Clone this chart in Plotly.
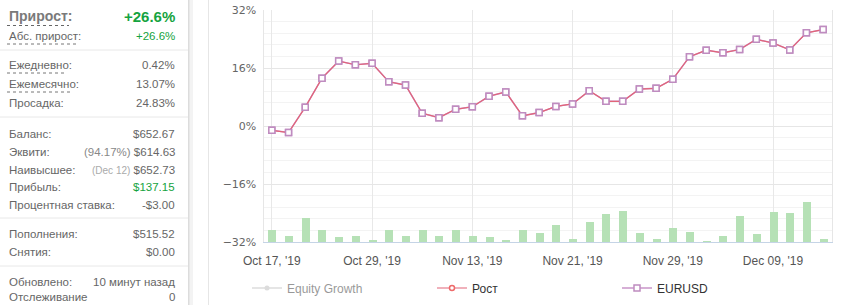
import plotly.graph_objects as go

W, H = 844, 305

# ---- data ----
growth = [-1.2, -1.8, 5.2, 13.2, 17.9, 16.9, 17.3, 12.2, 11.3, 3.5, 2.3, 4.6, 5.3, 8.2, 9.4,
          2.8, 3.7, 5.4, 6.1, 9.7, 6.8, 6.8, 10.2, 10.4, 12.9, 19.1, 20.9, 20.2, 21.1, 23.9,
          22.9, 21.0, 25.7, 26.6]
eurusd = [-1.2, -1.8, 5.2, 13.2, 17.9, 16.9, 17.3, 12.2, 11.3, 3.5, 2.3, 4.6, 5.3, 8.2, 9.4,
          2.8, 3.7, 5.4, 6.1, 9.7, 6.8, 6.8, 10.2, 10.4, 12.9, 19.1, 20.9, 20.2, 21.1, 23.9,
          22.9, 21.0, 25.7, 26.6]
volume = [4, 2, 8, 4, 1.6, 2, 0.4, 4, 2, 4, 2, 4, 2, 1.6, 0.4, 4, 3, 5.6, 0.9, 6.7, 9.3,
          10.3, 3, 1, 4.7, 3.3, 0.3, 2, 8.7, 2.6, 10, 9.7, 13.3, 1]
day_index = list(range(len(growth)))
tick_index = [0, 6, 12, 18, 24, 30]
tick_labels = ["Oct 17, '19", "Oct 29, '19", "Nov 13, '19", "Nov 21, '19", "Nov 29, '19", "Dec 09, '19"]
y_ticks = [-32, -16, 0, 16, 32]
y_tick_labels = ["−32%", "−16%", "0%", "16%", "32%"]

# sidebar rows: (label, value, y pixel, dotted underline?)
stats_rows = [
    ("Абс. прирост:", '<span style="color:#15a340">+26.6%</span>', 36, True),
    ("Ежедневно:", "0.42%", 65, True),
    ("Ежемесячно:", "13.07%", 84, True),
    ("Просадка:", "24.83%", 103, False),
    ("Баланс:", "$652.67", 134, False),
    ("Эквити:", '<span style="color:#888">(94.17%)</span> $614.63', 152, False),
    ("Наивысшее:", '<span style="color:#aaa;font-size:10px">(Dec 12)</span> $652.73', 170, False),
    ("Прибыль:", '<span style="color:#15a340">$137.15</span>', 187, False),
    ("Процентная ставка:", "-$3.00", 205, False),
    ("Пополнения:", "$515.52", 234, False),
    ("Снятия:", "$0.00", 252, False),
    ("Обновлено:", "10 минут назад", 282, False),
    ("Отслеживание", "0", 297, False),
]
separators = [50, 117, 218, 266]


def px(x):
    return x / W


def py(y):
    return 1 - y / H


fig = go.Figure()

fig.add_trace(go.Bar(
    x=day_index, y=volume, yaxis="y2", width=0.48,
    marker=dict(color="#b6e1b6", line=dict(width=0)),
    showlegend=False, hoverinfo="skip",
))
fig.add_trace(go.Scatter(
    x=day_index, y=growth, name="Equity Growth", visible="legendonly", legendrank=1,
    mode="lines+markers", line=dict(color="#bbbbbb", width=1.5),
    marker=dict(symbol="circle", size=5, color="#bbbbbb"),
))
fig.add_trace(go.Scatter(
    x=day_index, y=eurusd, name="EURUSD", legendrank=3,
    mode="lines+markers", line=dict(color="#c994c9", width=1.5),
    marker=dict(symbol="square", size=6, color="white", line=dict(color="#bf8cc0", width=1.5)),
))
fig.add_trace(go.Scatter(
    x=day_index, y=growth, name="Рост", legendrank=2,
    mode="lines+markers", line=dict(color="#e26478", width=1.2),
    marker=dict(symbol="circle", size=5, color="white", line=dict(color="#ee6a6a", width=1.5)),
))
# EURUSD markers drawn on top of the Рост line (same series, no extra legend entry)
fig.add_trace(go.Scatter(
    x=day_index, y=eurusd, name="EURUSD", showlegend=False,
    mode="markers",
    marker=dict(symbol="square", size=6, color="white", line=dict(color="#bf8cc0", width=1.5)),
))

shapes = []
annotations = []

# sidebar edge shadow and separator line
for x0, x1, c in [(188, 189, "#dcdcdc"), (189, 190.5, "#e8e8e8"), (190.5, 193, "#f3f3f3")]:
    shapes.append(dict(type="rect", xref="paper", yref="paper", x0=px(x0), x1=px(x1),
                       y0=0, y1=1, fillcolor=c, line=dict(width=0), layer="below"))
shapes.append(dict(type="line", xref="paper", yref="paper", x0=px(208.5), x1=px(208.5),
                   y0=0, y1=1, line=dict(color="#e6e6e6", width=1)))

for s in separators:
    shapes.append(dict(type="line", xref="paper", yref="paper", x0=0, x1=px(188),
                       y0=py(s), y1=py(s), line=dict(color="#e8e8e8", width=1)))

font_side = "Liberation Sans, Arial, sans-serif"

# headline
annotations.append(dict(xref="paper", yref="paper", x=px(7), y=py(16), xanchor="left",
                        yanchor="middle", showarrow=False, text="<b>Прирост:</b>",
                        font=dict(family=font_side, size=14, color="#7a7a7a")))
annotations.append(dict(xref="paper", yref="paper", x=px(177), y=py(16), xanchor="right",
                        yanchor="middle", showarrow=False, text="<b>+26.6%</b>",
                        font=dict(family=font_side, size=15, color="#15a340")))
shapes.append(dict(type="line", xref="paper", yref="paper", x0=px(7), x1=px(69),
                   y0=py(25.5), y1=py(25.5), line=dict(color="#666", width=1, dash="dot")))

label_widths = {"Абс. прирост:": 69, "Ежедневно:": 60, "Ежемесячно:": 65}
for label, value, yy, dotted in stats_rows:
    annotations.append(dict(xref="paper", yref="paper", x=px(7), y=py(yy), xanchor="left",
                            yanchor="middle", showarrow=False, text=label,
                            font=dict(family=font_side, size=11.5, color="#666")))
    annotations.append(dict(xref="paper", yref="paper", x=px(177), y=py(yy), xanchor="right",
                            yanchor="middle", showarrow=False, text=value,
                            font=dict(family=font_side, size=11.5, color="#666")))
    if dotted:
        wdt = label_widths.get(label, 60)
        shapes.append(dict(type="line", xref="paper", yref="paper", x0=px(7), x1=px(7 + wdt),
                           y0=py(yy + 8), y1=py(yy + 8),
                           line=dict(color="#777", width=1, dash="dot")))

fig.update_layout(
    width=W, height=H,
    margin=dict(l=0, r=0, t=0, b=0, autoexpand=False),
    paper_bgcolor="white", plot_bgcolor="white",
    bargap=0,
    xaxis=dict(
        domain=[px(263.5), px(831.5)],
        range=[-0.5, 33.5],
        tickvals=tick_index, ticktext=tick_labels,
        showgrid=True, gridcolor="#e8e8e8", gridwidth=1,
        zeroline=False, automargin=False,
        showline=True, linecolor="#c5d4e6", linewidth=1,
        ticks="", ticklabelstandoff=8,
        tickfont=dict(family="Liberation Sans, Arial, sans-serif", size=12, color="#555"),
    ),
    yaxis=dict(
        domain=[1 - 242 / H, 1 - 10 / H],
        range=[-32, 32],
        tickvals=y_ticks, ticktext=y_tick_labels,
        showgrid=True, gridcolor="#e6e6e6", gridwidth=1,
        zeroline=False, automargin=False,
        showline=True, linecolor="#e6e6e6", mirror=True,
        minor=dict(dtick=3.2, tick0=0, showgrid=True, gridcolor="#f3f3f3", gridwidth=1),
        ticks="", ticklabelstandoff=4,
        tickfont=dict(family="DejaVu Sans, Verdana, sans-serif", size=11, color="#666"),
    ),
    yaxis2=dict(
        overlaying="y", range=[0, 232 / 3], visible=False,
    ),
    legend=dict(
        orientation="h", x=px(247), xanchor="left", y=py(288), yanchor="middle",
        entrywidth=140, entrywidthmode="pixels",
        font=dict(family="Liberation Sans, Arial, sans-serif", size=12, color="#333"),
        bgcolor="rgba(0,0,0,0)",
    ),
    shapes=shapes,
    annotations=annotations,
)

fig.write_html("out.html")
